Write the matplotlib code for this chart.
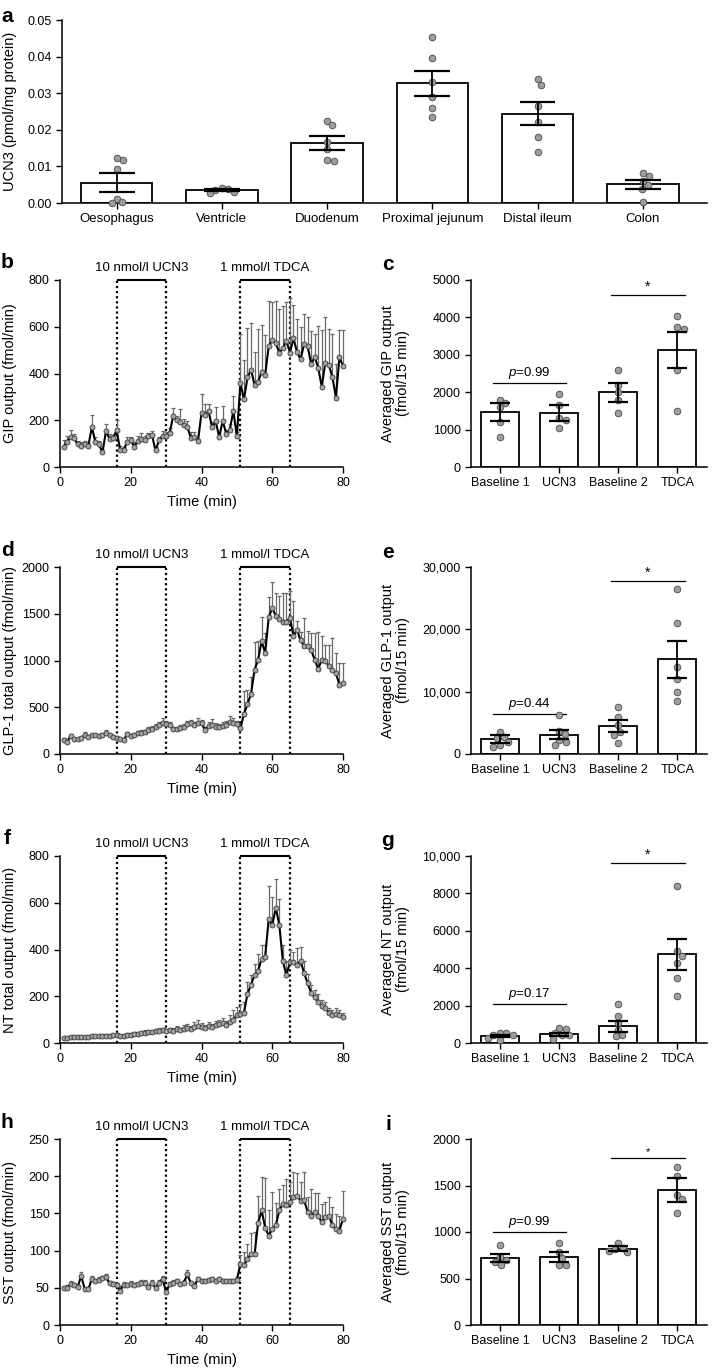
import numpy as np
import matplotlib
matplotlib.use('Agg')
import matplotlib.pyplot as plt
from matplotlib.ticker import FuncFormatter

plt.rcParams['font.family'] = ['Liberation Sans', 'DejaVu Sans']
plt.rcParams['mathtext.fontset'] = 'custom'
plt.rcParams['mathtext.it'] = 'Liberation Sans:italic'
plt.rcParams['mathtext.rm'] = 'Liberation Sans'
plt.rcParams['axes.linewidth'] = 1.1

# ---------------- data: panel a ----------------
tissues = ['Oesophagus', 'Ventricle', 'Duodenum', 'Proximal jejunum', 'Distal ileum', 'Colon']
ucn3_mean = [0.0056, 0.0035, 0.0165, 0.0327, 0.0244, 0.0051]
ucn3_sem = [0.0025, 0.0003, 0.0019, 0.0034, 0.0032, 0.0013]
ucn3_oesophagus = [0.0118, 0.0122, 0.0092, 0.0012, 0.0003, 0.0000]
ucn3_ventricle = [0.0041, 0.0038, 0.0036, 0.0029, 0.0027]
ucn3_duodenum = [0.0225, 0.0214, 0.0168, 0.0148, 0.0118, 0.0116]
ucn3_prox_jejunum = [0.0453, 0.0395, 0.0330, 0.0290, 0.0260, 0.0235]
ucn3_distal_ileum = [0.0338, 0.0323, 0.0264, 0.0220, 0.0179, 0.0138]
ucn3_colon = [0.0082, 0.0074, 0.0060, 0.0048, 0.0038, 0.0003]

# ---------------- data: time courses ----------------
time_min = list(range(1, 81))
ucn3_period = (16, 30)
tdca_period = (51, 65)
ucn3_label = '10 nmol/l UCN3'
tdca_label = '1 mmol/l TDCA'

gip_ts = [86, 107, 129, 123, 97, 91, 100, 89, 171, 107,
          97, 63, 153, 121, 123, 157, 74, 74, 107, 114,
          86, 111, 119, 114, 131, 136, 71, 114, 133, 133,
          147, 217, 200, 193, 181, 171, 124, 129, 111, 231,
          221, 240, 169, 196, 129, 197, 143, 160, 240, 131,
          360, 289, 383, 417, 350, 364, 407, 393, 517, 543,
          529, 489, 507, 540, 489, 550, 493, 460, 526, 517,
          440, 471, 424, 343, 446, 436, 386, 297, 471, 431]
gip_ts_sem = [30, 25, 30, 20, 15, 15, 12, 15, 50, 20,
              15, 15, 30, 20, 15, 45, 15, 10, 20, 15,
              20, 20, 25, 20, 15, 20, 15, 15, 20, 15,
              20, 35, 20, 55, 25, 25, 25, 20, 10, 80,
              50, 30, 25, 60, 15, 65, 15, 25, 65, 20,
              210, 170, 210, 200, 140, 225, 200, 170, 195, 165,
              180, 185, 180, 165, 235, 145, 140, 140, 130, 125,
              140, 100, 180, 245, 195, 155, 185, 145, 115, 155]

glp1_ts = [150, 132, 193, 161, 161, 168, 207, 182, 204, 204,
           196, 204, 228, 204, 178, 168, 161, 150, 214, 196,
           204, 221, 228, 232, 257, 264, 293, 311, 336, 318,
           311, 264, 264, 275, 293, 318, 328, 314, 336, 328,
           257, 303, 311, 293, 293, 303, 314, 346, 336, 318,
           275, 428, 535, 643, 900, 1007, 1210, 1078, 1464, 1560,
           1478, 1442, 1417, 1417, 1453, 1264, 1328, 1214, 1157, 1157,
           1114, 1007, 910, 1007, 1000, 942, 900, 864, 739, 764]
glp1_ts_sem = [20, 15, 20, 15, 15, 15, 25, 20, 15, 15,
               15, 20, 25, 15, 20, 15, 15, 15, 25, 20,
               20, 25, 30, 25, 30, 35, 30, 35, 45, 40,
               30, 25, 25, 30, 30, 35, 40, 30, 45, 40,
               30, 35, 60, 35, 30, 40, 35, 60, 45, 40,
               50, 250, 150, 180, 300, 200, 260, 220, 220, 275,
               245, 250, 300, 310, 285, 370, 90, 95, 295, 155,
               185, 290, 390, 250, 170, 225, 340, 215, 230, 210]

nt_ts = [20, 22, 24, 24, 25, 26, 27, 27, 28, 30,
         29, 31, 32, 31, 33, 35, 30, 32, 34, 36,
         38, 40, 41, 44, 45, 47, 50, 52, 54, 50,
         55, 52, 58, 56, 62, 65, 60, 70, 74, 70,
         64, 72, 68, 75, 80, 84, 78, 90, 100, 118,
         125, 130, 210, 250, 290, 310, 360, 370, 530, 505,
         578, 505, 350, 290, 345, 345, 335, 350, 300, 255,
         215, 195, 175, 160, 150, 130, 120, 125, 120, 110]
nt_ts_sem = [5, 4, 4, 5, 5, 4, 5, 5, 5, 6,
             5, 6, 5, 6, 6, 8, 5, 6, 7, 8,
             8, 7, 8, 10, 8, 9, 10, 12, 10, 12,
             10, 12, 14, 10, 15, 18, 12, 20, 25, 15,
             12, 18, 15, 20, 18, 22, 15, 30, 40, 35,
             40, 45, 50, 40, 50, 70, 60, 50, 140, 120,
             125, 110, 70, 60, 55, 45, 70, 60, 50, 40,
             35, 30, 35, 25, 25, 20, 20, 25, 20, 18]

sst_ts = [49.5, 50.4, 54.9, 54, 51.3, 66, 48, 48, 62, 59,
          61, 63, 64, 56, 55, 54, 46, 54, 54, 55,
          53.5, 55, 56, 57, 51, 56, 50, 57, 62, 44,
          55, 57, 59, 55, 57, 68, 56, 53, 62, 59,
          59, 60, 62, 59, 62, 59, 59, 59, 59, 61,
          82, 80, 89, 95, 95, 137, 154, 131, 120, 129,
          134, 154, 163, 161, 165, 172, 174, 167, 168, 152,
          147, 152, 147, 138, 145, 147, 134, 129, 127, 143]
sst_ts_sem = [3, 3, 4, 3, 3, 5, 3, 3, 4, 3,
              4, 3, 4, 3, 3, 3, 6, 4, 3, 4,
              3, 3, 5, 4, 3, 4, 3, 3, 4, 5,
              3, 3, 3, 3, 4, 6, 3, 3, 3, 3,
              3, 3, 3, 3, 3, 3, 3, 3, 3, 3,
              12, 18, 20, 28, 30, 36, 45, 67, 35, 50,
              30, 29, 25, 35, 27, 34, 30, 25, 37, 20,
              36, 25, 30, 25, 20, 25, 25, 20, 20, 37]

# ---------------- data: averaged outputs ----------------
conditions = ['Baseline 1', 'UCN3', 'Baseline 2', 'TDCA']

gip_avg_mean = [1470, 1440, 2000, 3120]
gip_avg_sem = [250, 220, 250, 480]
gip_avg_points = [[1800, 1700, 1600, 1200, 800],
                  [1950, 1650, 1300, 1250, 1050],
                  [2600, 2200, 2000, 1800, 1450],
                  [4050, 3750, 3700, 2600, 1500]]
gip_sig = [('$p$=0.99', 2250), ('*', 4600)]

glp1_avg_mean = [2400, 3100, 4500, 15200]
glp1_avg_sem = [600, 700, 900, 3000]
glp1_avg_points = [[3600, 2800, 2500, 2000, 1500, 1200],
                   [6200, 3700, 3200, 2300, 2000, 1500],
                   [7500, 6000, 4600, 3600, 3000, 1800],
                   [26500, 21000, 14000, 12000, 10000, 8500]]
glp1_sig = [('$p$=0.44', 6400), ('*', 27800)]

nt_avg_mean = [355, 470, 890, 4750]
nt_avg_sem = [60, 80, 300, 820]
nt_avg_points = [[530, 530, 445, 445, 270, 180],
                 [800, 750, 530, 445, 445, 210],
                 [2080, 1420, 1070, 710, 445, 355],
                 [8400, 4900, 4660, 4300, 3470, 2490]]
nt_sig = [('$p$=0.17', 2100), ('*', 9640)]

sst_avg_mean = [720, 730, 820, 1450]
sst_avg_sem = [45, 55, 25, 130]
sst_avg_points = [[860, 730, 700, 680, 650],
                  [880, 780, 720, 650, 640],
                  [880, 830, 820, 800, 780],
                  [1700, 1600, 1400, 1350, 1200]]
sst_sig = [('$p$=0.99', 1000), ('*', 1800)]

# ---------------- helpers ----------------
W, H = 712, 1370
fig = plt.figure(figsize=(W / 100, H / 100), dpi=100)


def px_axes(left, top, right, bottom):
    return fig.add_axes([left / W, 1 - bottom / H, (right - left) / W, (bottom - top) / H])


def style(ax):
    for s in ['top', 'right']:
        ax.spines[s].set_visible(False)
    ax.tick_params(direction='out', length=4, width=1.0, labelsize=9, colors='black')


def big_fmt(v, pos):
    v = int(round(v))
    return f'{v:,}' if v >= 10000 else f'{v}'


DOT_MS = 4.8


def swarm_x(ax, x0, vals):
    diam = DOT_MS * 100 / 72 * 0.95
    trans = ax.transData
    inv = trans.inverted()
    pts = [trans.transform((x0, v)) for v in vals]
    order = np.argsort(vals)[::-1]
    placed = []
    xs = [0.0] * len(vals)
    for i in order:
        px, py = pts[i]
        best = None
        k = 0
        while best is None:
            for sgn in ([0] if k == 0 else [1, -1]):
                cx = px + sgn * k * 0.5
                if all((cx - qx) ** 2 + (py - qy) ** 2 >= diam ** 2 for qx, qy in placed):
                    best = cx
                    break
            k += 1
        placed.append((best, py))
        xs[i] = inv.transform((best, py))[0]
    return xs


def bar_panel(ax, means, sems, points, width, caphalf):
    x = np.arange(len(means))
    ax.bar(x, means, width=width, color='white', edgecolor='black', linewidth=1.3, zorder=2)
    for xi, pts in zip(x, points):
        xs = swarm_x(ax, xi, pts)
        ax.plot(xs, pts, 'o', ms=DOT_MS, mfc='#9d9d9d', mec='#4a4a4a', mew=0.6,
                zorder=3, clip_on=False, linestyle='none')
    for xi, m, s in zip(x, means, sems):
        ax.plot([xi, xi], [m - s, m + s], color='black', lw=1.3, zorder=4, solid_capstyle='butt')
        for yy in (m - s, m + s):
            ax.plot([xi - caphalf, xi + caphalf], [yy, yy], color='black', lw=1.6, zorder=4,
                    solid_capstyle='butt')


def time_panel(ax, vals, sems, ymax, yticks, ylabel):
    style(ax)
    ax.set_xlim(0, 80)
    ax.set_ylim(0, ymax)
    ax.set_xticks([0, 20, 40, 60, 80])
    ax.set_yticks(yticks)
    ax.yaxis.set_major_formatter(FuncFormatter(big_fmt))
    n = len(vals)
    ax.errorbar(time_min, vals, yerr=[np.zeros(n), sems], fmt='none', ecolor='#6a6a6a',
                elinewidth=0.9, capsize=1.6, capthick=0.9, zorder=2, clip_on=False)
    ax.plot(time_min, vals, '-', color='black', lw=1.5, zorder=3, clip_on=False)
    ax.plot(time_min, vals, 'o', ms=3.6, mfc='#a3a3a3', mec='#3c3c3c', mew=0.6, zorder=4,
            clip_on=False, linestyle='none')
    for (a, b), lab in ((ucn3_period, ucn3_label), (tdca_period, tdca_label)):
        for xv in (a, b):
            ax.plot([xv, xv], [0, ymax], color='black', lw=1.6, linestyle=(0, (1, 1.3)),
                    clip_on=False, zorder=1)
        ax.plot([a, b], [ymax, ymax], color='black', lw=1.5, clip_on=False, zorder=5,
                solid_capstyle='butt')
        ax.annotate(lab, xy=((a + b) / 2, ymax), xytext=(0, 4.5), textcoords='offset points',
                    ha='center', va='bottom', fontsize=9.5)
    ax.set_xlabel('Time (min)', fontsize=10.5, labelpad=4)
    ax.set_ylabel(ylabel, fontsize=10.5)
    ax.yaxis.label.set_va('center')
    ax.yaxis.set_label_coords(-0.177, 0.5)


def avg_panel(ax, means, sems, points, ymax, yticks, ylabel, sig, starsize=10):
    style(ax)
    ax.set_xlim(-0.49, 3.5)
    ax.set_ylim(0, ymax)
    ax.set_yticks(yticks)
    ax.yaxis.set_major_formatter(FuncFormatter(big_fmt))
    bar_panel(ax, means, sems, points, 0.64, 0.17)
    ax.set_xticks(range(len(conditions)))
    ax.set_xticklabels(conditions, fontsize=9)
    (ptxt, py), (stxt, sy) = sig
    ax.plot([-0.12, 1.12], [py, py], color='black', lw=0.9)
    ax.annotate(ptxt, xy=(0.5, py), xytext=(0, 1.5), textcoords='offset points',
                ha='center', va='bottom', fontsize=9.5)
    ax.plot([1.88, 3.12], [sy, sy], color='black', lw=0.9)
    ax.annotate(stxt, xy=(2.5, sy), xytext=(0, 0.5), textcoords='offset points',
                ha='center', va='bottom', fontsize=starsize)
    ax.set_ylabel(ylabel, fontsize=10.5, linespacing=1.05)
    ax.yaxis.label.set_va('center')
    ax.yaxis.set_label_coords(-0.32, 0.5)


# ---------------- panel a ----------------
axa = px_axes(62, 20, 707, 203)
style(axa)
axa.set_xlim(-0.52, 5.61)
axa.set_ylim(0, 0.05)
axa.set_yticks([0, 0.01, 0.02, 0.03, 0.04, 0.05])
axa.yaxis.set_major_formatter(FuncFormatter(lambda v, p: f'{v:.2f}'))
bar_panel(axa, ucn3_mean, ucn3_sem,
          [ucn3_oesophagus, ucn3_ventricle, ucn3_duodenum, ucn3_prox_jejunum,
           ucn3_distal_ileum, ucn3_colon], 0.68, 0.17)
axa.set_xticks(range(len(tissues)))
axa.set_xticklabels(tissues, fontsize=9.5)
axa.set_ylabel('UCN3 (pmol/mg protein)', fontsize=10.5)
axa.yaxis.label.set_va('center')
axa.yaxis.set_label_coords(-52 / 645, 0.5)

# ---------------- rows ----------------
L0, L1 = 60, 343
R0, R1 = 471, 707
rows = [280, 567, 856, 1139]
hgt = 187

axb = px_axes(L0, rows[0], L1, rows[0] + hgt)
time_panel(axb, gip_ts, gip_ts_sem, 800, [0, 200, 400, 600, 800], 'GIP output (fmol/min)')
axc = px_axes(R0, rows[0], R1, rows[0] + hgt)
avg_panel(axc, gip_avg_mean, gip_avg_sem, gip_avg_points, 5000, range(0, 5001, 1000),
          'Averaged GIP output\n(fmol/15 min)', gip_sig)

axd = px_axes(L0, rows[1], L1, rows[1] + hgt)
time_panel(axd, glp1_ts, glp1_ts_sem, 2000, [0, 500, 1000, 1500, 2000],
           'GLP-1 total output (fmol/min)')
axe = px_axes(R0, rows[1], R1, rows[1] + hgt)
avg_panel(axe, glp1_avg_mean, glp1_avg_sem, glp1_avg_points, 30000, range(0, 30001, 10000),
          'Averaged GLP-1 output\n(fmol/15 min)', glp1_sig)

axf = px_axes(L0, rows[2], L1, rows[2] + hgt)
time_panel(axf, nt_ts, nt_ts_sem, 800, [0, 200, 400, 600, 800], 'NT total output (fmol/min)')
axg = px_axes(R0, rows[2], R1, rows[2] + hgt)
avg_panel(axg, nt_avg_mean, nt_avg_sem, nt_avg_points, 10000, range(0, 10001, 2000),
          'Averaged NT output\n(fmol/15 min)', nt_sig)

axh = px_axes(L0, rows[3], L1, rows[3] + 186)
time_panel(axh, sst_ts, sst_ts_sem, 250, [0, 50, 100, 150, 200, 250], 'SST output (fmol/min)')
axi = px_axes(R0, rows[3], R1, rows[3] + 186)
avg_panel(axi, sst_avg_mean, sst_avg_sem, sst_avg_points, 2000, range(0, 2001, 500),
          'Averaged SST output\n(fmol/15 min)', sst_sig, starsize=8)

# panel letters
letters = [('a', 7, 17), ('b', 7, 263), ('c', 388, 265), ('d', 7, 550), ('e', 388, 552),
           ('f', 7, 838), ('g', 388, 840), ('h', 7, 1122), ('i', 388, 1124)]
for t, x, y in letters:
    fig.text(x / W, 1 - y / H, t, fontsize=15, fontweight='bold', ha='center', va='center')

fig.savefig('out.png', dpi=100)
